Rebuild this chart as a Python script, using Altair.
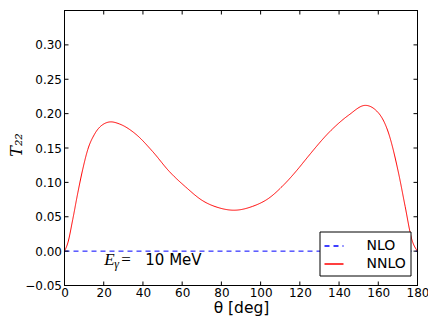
import altair as alt
import pandas as pd

# ---- data ----
theta = [0, 1.7, 4.2, 6.8, 9.3, 11.9, 15.3, 19.5, 23.7, 28.0, 36.4, 44.9, 53.4, 61.9,
         70.3, 78.8, 86.4, 95.8, 104.2, 112.0, 119.5, 122.9, 136.4, 145.0, 153.4, 160.1,
         165.2, 170.3, 173.7, 177.1, 180]
nnlo = [0.0, 0.012, 0.046, 0.085, 0.119, 0.148, 0.170, 0.184, 0.188, 0.185, 0.170, 0.145,
        0.116, 0.093, 0.0736, 0.063, 0.0595, 0.065, 0.077, 0.097, 0.121, 0.133, 0.177,
        0.198, 0.212, 0.201, 0.172, 0.114, 0.065, 0.017, 0.0]
nlo_theta = [0, 180]
nlo = [0.0, 0.0]
series_names = ["NLO", "NNLO"]
x_ticks = [0, 20, 40, 60, 80, 100, 120, 140, 160, 180]
y_ticks = [-0.05, 0.0, 0.05, 0.10, 0.15, 0.20, 0.25, 0.30, 0.35]
y_labels = [-0.05, 0.0, 0.05, 0.10, 0.15, 0.20, 0.25, 0.30]
annot_theta = [20.3]
annot_val = [-0.0195]

W, H = 353, 275

df = pd.concat([
    pd.DataFrame({"theta": nlo_theta, "T22": nlo, "series": series_names[0]}),
    pd.DataFrame({"theta": theta, "T22": nnlo, "series": series_names[1]}),
])

xscale = alt.Scale(domain=[0, 180], nice=False, zero=False)
yscale = alt.Scale(domain=[-0.05, 0.35], nice=False, zero=False)

xaxis = alt.Axis(values=x_ticks, format="d", ticks=False, domain=False, grid=False,
                 labelPadding=2, labelFontSize=12, labelFont="DejaVu Sans",
                 labelColor="black", labelFlush=False, labelOverlap=False,
                 title="θ [deg]", titleFont="DejaVu Sans", titleFontSize=15.5,
                 titleFontWeight="normal", titleColor="black", titlePadding=2)
yaxis = alt.Axis(values=y_labels, format=".2f", ticks=False, domain=False, grid=False,
                 labelPadding=3, labelFontSize=12, labelFont="DejaVu Sans",
                 labelColor="black", labelFlush=False, labelOverlap=False,
                 title="T₂₂", titleFont="DejaVu Serif", titleFontStyle="italic",
                 titleFontSize=16, titleFontWeight="normal", titleColor="black",
                 titleX=-48, titleY=134, titleAlign="center", titleBaseline="middle")

legend_kw = dict(title=None, orient="none", legendX=255, legendY=221,
                 symbolType="stroke", symbolSize=361, symbolStrokeWidth=1.5,
                 labelFontSize=14, labelFont="DejaVu Sans", labelColor="black",
                 labelOffset=22, padding=4, rowPadding=0,
                 strokeColor="black", fillColor="white", cornerRadius=0)

X = lambda: alt.X("theta:Q", scale=xscale, axis=xaxis, title="θ [deg]")
Y = lambda: alt.Y("T22:Q", scale=yscale, axis=yaxis, title="T₂₂")

lines = alt.Chart(df).mark_line(strokeWidth=1, interpolate="monotone").encode(
    x=X(), y=Y(),
    color=alt.Color("series:N", scale=alt.Scale(domain=series_names, range=["#0000ff", "#ff0000"]),
                    legend=alt.Legend(**legend_kw)),
    strokeDash=alt.StrokeDash("series:N", scale=alt.Scale(domain=series_names, range=[[5, 4], [1, 0]]),
                              legend=alt.Legend(**legend_kw)),
)

xt = pd.DataFrame({"theta": x_ticks})
yt = pd.DataFrame({"T22": y_ticks})
tick_bottom = alt.Chart(xt).mark_rule(color="black", strokeWidth=1).encode(
    x=X(), y=alt.value(H), y2=alt.value(H - 4))
tick_top = alt.Chart(xt).mark_rule(color="black", strokeWidth=1).encode(
    x=X(), y=alt.value(0), y2=alt.value(4))
tick_left = alt.Chart(yt).mark_rule(color="black", strokeWidth=1).encode(
    y=Y(), x=alt.value(0), x2=alt.value(4))
tick_right = alt.Chart(yt).mark_rule(color="black", strokeWidth=1).encode(
    y=Y(), x=alt.value(W), x2=alt.value(W - 4))

# frame (spines)
frame_l = alt.Chart(xt).mark_rule(color="black", strokeWidth=1).encode(
    x=alt.value(0), y=alt.value(0), y2=alt.value(H))
frame_r = alt.Chart(xt).mark_rule(color="black", strokeWidth=1).encode(
    x=alt.value(W), y=alt.value(0), y2=alt.value(H))
frame_t = alt.Chart(xt).mark_rule(color="black", strokeWidth=1).encode(
    x=alt.value(0), x2=alt.value(W), y=alt.value(0))
frame_b = alt.Chart(xt).mark_rule(color="black", strokeWidth=1).encode(
    x=alt.value(0), x2=alt.value(W), y=alt.value(H))

adf = pd.DataFrame({"theta": annot_theta, "T22": annot_val})
base_t = alt.Chart(adf).encode(x=X(), y=Y())
t_E = base_t.mark_text(text="E", font="Liberation Serif", fontStyle="italic", fontSize=17,
                       align="left", baseline="alphabetic", color="black")
t_g = base_t.mark_text(text="γ", font="Liberation Serif", fontStyle="italic", fontSize=12,
                       align="left", baseline="alphabetic", color="black", dx=10, dy=3)
t_eq = base_t.mark_text(text="=", font="Liberation Serif", fontSize=17,
                        align="left", baseline="alphabetic", color="black", dx=17)
t_val = base_t.mark_text(text="10 MeV", font="DejaVu Sans", fontSize=15,
                         align="left", baseline="alphabetic", color="black", dx=41)

chart = alt.layer(lines, tick_bottom, tick_top, tick_left, tick_right,
                  frame_l, frame_r, frame_t, frame_b,
                  t_E, t_g, t_eq, t_val).properties(
    width=W, height=H,
    autosize=alt.AutoSizeParams(type="none"),
    padding={"left": 56.5, "top": 2.5, "right": 10.5, "bottom": 33.5},
).configure(background="white", view=alt.ViewConfig(stroke=None))

chart.save("out.html", embed_options={"renderer": "svg", "actions": False})
